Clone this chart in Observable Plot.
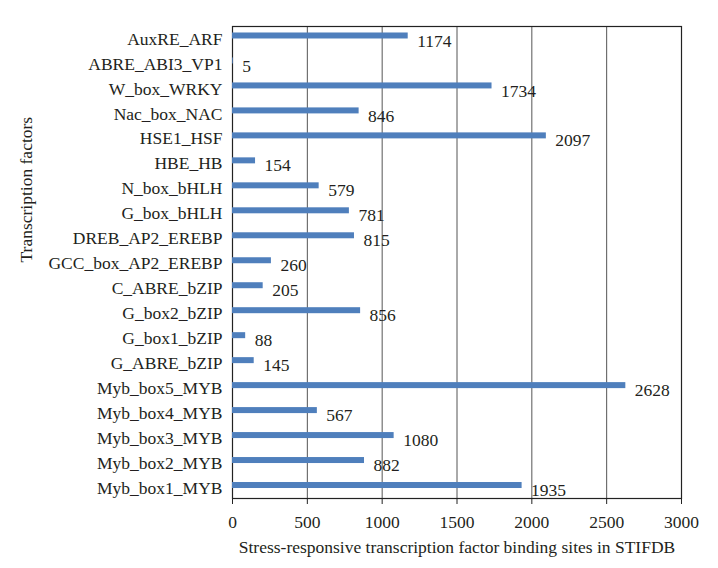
<!DOCTYPE html>
<html>
<head>
<meta charset="utf-8">
<script src="https://cdn.jsdelivr.net/npm/d3@7"></script>
<script src="https://cdn.jsdelivr.net/npm/@observablehq/plot@0.6"></script>
<style>
  html, body { margin: 0; padding: 0; background: #fff; }
  svg { display: block; }
</style>
</head>
<body>
<div id="chart"></div>
<script>
const categories = [
  "AuxRE_ARF", "ABRE_ABI3_VP1", "W_box_WRKY", "Nac_box_NAC", "HSE1_HSF",
  "HBE_HB", "N_box_bHLH", "G_box_bHLH", "DREB_AP2_EREBP", "GCC_box_AP2_EREBP",
  "C_ABRE_bZIP", "G_box2_bZIP", "G_box1_bZIP", "G_ABRE_bZIP", "Myb_box5_MYB",
  "Myb_box4_MYB", "Myb_box3_MYB", "Myb_box2_MYB", "Myb_box1_MYB"
];
const values = [1174, 5, 1734, 846, 2097, 154, 579, 781, 815, 260, 205, 856, 88, 145, 2628, 567, 1080, 882, 1935];
const xTicks = [0, 500, 1000, 1500, 2000, 2500, 3000];
const xLabel = "Stress-responsive transcription factor binding sites in STIFDB";
const yLabel = "Transcription factors";

const data = categories.map((c, i) => ({name: c, value: values[i]}));
const FS = 17.5;

const chart = Plot.plot({
  width: 718,
  height: 568,
  marginLeft: 232,
  marginRight: 37,
  marginTop: 26,
  marginBottom: 70,
  style: {fontFamily: "'Liberation Serif', 'Times New Roman', serif", fontSize: FS + "px", color: "#231f20", background: "#fff"},
  x: {domain: [0, 3000]},
  y: {domain: categories, range: [23, 497.5], paddingInner: 0.76, paddingOuter: 0.38, round: false},
  marks: [
    Plot.ruleX(xTicks.slice(1, -1), {stroke: "#555", strokeWidth: 1}),
    Plot.frame({stroke: "#222", strokeWidth: 1.2}),
    Plot.barX(data, {y: "name", x: "value", fill: "#4f7fbc"}),
    Plot.text(data, {y: "name", x: "value", text: d => String(d.value), textAnchor: "start", dx: 9, dy: 5, fill: "#231f20", fontSize: FS}),
    Plot.axisX(xTicks, {tickSize: 6, tickPadding: 11, stroke: "#222", tickFormat: d => String(d), label: xLabel, labelAnchor: "center", labelOffset: 54, labelArrow: "none", fontSize: FS}),
    Plot.axisY({tickSize: 0, tickPadding: 10, dy: 3, label: null, fontSize: FS}),
    Plot.text([yLabel], {frameAnchor: "left", dx: -206, dy: 0, rotate: -90, text: d => d, fontSize: FS, fill: "#231f20"})
  ]
});
document.getElementById("chart").appendChild(chart);
</script>
</body>
</html>
